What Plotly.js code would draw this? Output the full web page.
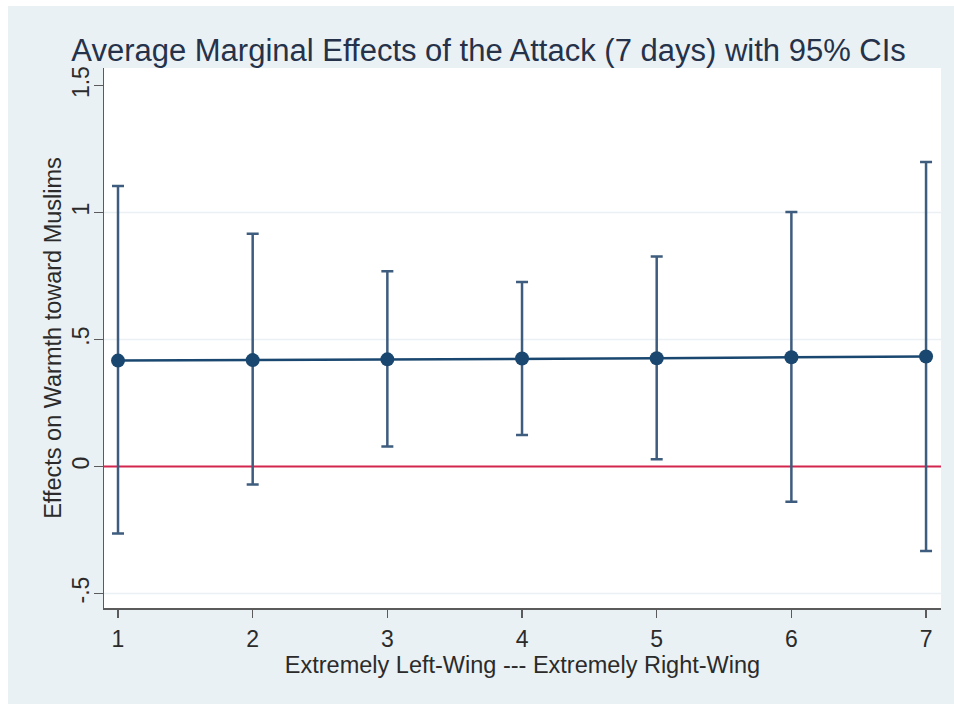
<!DOCTYPE html>
<html>
<head>
<meta charset="utf-8">
<script src="https://cdn.plot.ly/plotly-3.0.1.min.js"></script>
<style>
  body { margin: 0; background: #ffffff; }
  #myDiv { position: absolute; left: 8px; top: 6px; width: 946px; height: 698px; }
</style>
</head>
<body>
<div id="myDiv"></div>
<script>
// ideology scale 1..7 and margins of the attack effect
const ideology = [1, 2, 3, 4, 5, 6, 7]
const effects = [0.417, 0.419, 0.422, 0.425, 0.426, 0.43, 0.433]
const ciUpper = [1.104, 0.916, 0.769, 0.726, 0.827, 1.002, 1.199]
const ciLower = [-0.264, -0.071, 0.079, 0.124, 0.029, -0.139, -0.333]

const yTicks = [-0.5, 0, 0.5, 1, 1.5]
const yTickText = ["-.5", "0", ".5", "1", "1.5"]
const gridAt = [-0.5, 0.5, 1]
const refLine = 0

const navy = "#1a476f"
const ciColor = "#3e5c7e"
const axisColor = "#5b5b5b"
const textColor = "#2b2b2b"
const font = "Liberation Sans, Arial, sans-serif"

const errPlus = ciUpper.map((u, i) => u - effects[i])
const errMinus = ciLower.map((l, i) => effects[i] - l)

const trace = {
  x: ideology,
  y: effects,
  mode: "lines+markers",
  type: "scatter",
  line: { color: navy, width: 2.5 },
  marker: { color: navy, size: 14 },
  error_y: {
    type: "data",
    symmetric: false,
    array: errPlus,
    arrayminus: errMinus,
    color: ciColor,
    thickness: 2.5,
    width: 6,
  },
  showlegend: false,
  cliponaxis: false,
}

// light grid lines, then the red zero line, all under the data
let shapes = gridAt.map((g) => {
  return {
    type: "line",
    xref: "paper",
    x0: 0,
    x1: 1,
    yref: "y",
    y0: g,
    y1: g,
    line: { color: "#eaf0f3", width: 1.5 },
    layer: "below",
  }
})
shapes.push({
  type: "line",
  xref: "paper",
  x0: 0,
  x1: 1,
  yref: "y",
  y0: refLine,
  y1: refLine,
  line: { color: "#d3264f", width: 2 },
  layer: "below",
})

const layout = {
  width: 946,
  height: 698,
  paper_bgcolor: "#eaf1f4",
  plot_bgcolor: "#ffffff",
  margin: { l: 96, r: 13, t: 62, b: 96 },
  font: { family: font, color: textColor, size: 20 },
  title: {
    text: "Average Marginal Effects of the Attack (7 days) with 95% CIs",
    font: { family: font, size: 31, color: "#25324a" },
    x: 0.508,
    xanchor: "center",
    y: 0.937,
    yanchor: "middle",
    yref: "container",
  },
  xaxis: {
    range: [0.896, 7.111],
    tickvals: ideology,
    ticktext: ideology.map(String),
    showgrid: false,
    zeroline: false,
    showline: true,
    linecolor: axisColor,
    linewidth: 1.5,
    ticks: "outside",
    ticklen: 8,
    tickwidth: 1.5,
    tickcolor: axisColor,
    tickfont: { family: font, size: 23, color: textColor },
    ticklabelstandoff: 2,
    title: {
      text: "Extremely Left-Wing --- Extremely Right-Wing",
      font: { size: 23.5, color: textColor },
      standoff: 4,
    },
  },
  yaxis: {
    range: [-0.557, 1.569],
    tickvals: yTicks,
    ticktext: yTickText,
    tickangle: -90,
    showgrid: false,
    zeroline: false,
    showline: true,
    linecolor: axisColor,
    linewidth: 1.5,
    ticks: "outside",
    ticklen: 9,
    tickwidth: 1.5,
    tickcolor: axisColor,
    tickfont: { family: font, size: 23, color: textColor },
    ticklabelstandoff: -5,
    title: {
      text: "Effects on Warmth toward Muslims",
      font: { size: 23.5, color: textColor },
      standoff: 0,
    },
  },
  shapes: shapes,
}

Plotly.newPlot("myDiv", [trace], layout, { displayModeBar: false, staticPlot: true })
</script>
</body>
</html>
